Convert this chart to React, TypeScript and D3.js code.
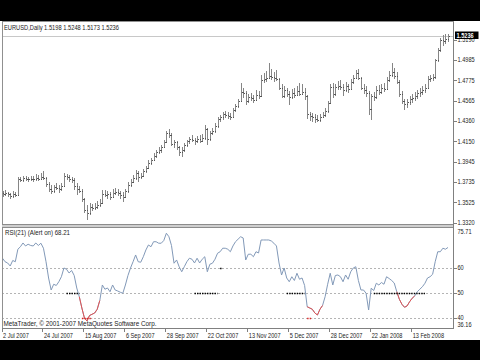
import React from 'react';
import * as d3 from 'd3';

// ---------- data ----------
const symbolTitle = 'EURUSD,Daily  1.5198 1.5248 1.5173 1.5236';
const rsiTitle = 'RSI(21) (Alert on) 68.21';
const copyright = 'MetaTrader, \u00A9 2001-2007 MetaQuotes Software Corp.';

const dateLabels = ['2 Jul 2007', '24 Jul 2007', '15 Aug 2007', '6 Sep 2007', '28 Sep 2007', '22 Oct 2007', '13 Nov 2007', '5 Dec 2007', '28 Dec 2007', '22 Jan 2008', '13 Feb 2008'];
const dateLabelBars = [0, 16, 32, 48, 64, 80, 96, 112, 128, 144, 160];

const priceTicks = [1.5190, 1.4985, 1.4775, 1.4565, 1.4360, 1.4150, 1.3945, 1.3735, 1.3525, 1.3320];
const priceMin = 1.3320;
const lastPrice = 1.5236;

const rsiMax = 75.71;
const rsiMin = 36.16;
const rsiLevels = [60, 50, 40];

const opens = [
  1.3620,1.3615,1.3620,1.3610,1.3595,1.3615,1.3605,1.3770,1.3760,1.3775,
  1.3770,1.3765,1.3770,1.3765,1.3780,1.3770,1.3790,1.3775,1.3710,1.3660,
  1.3640,1.3680,1.3675,1.3660,1.3690,1.3800,1.3790,1.3770,1.3760,1.3690,
  1.3660,1.3640,1.3560,1.3450,1.3420,1.3480,1.3470,1.3480,1.3500,1.3520,
  1.3610,1.3600,1.3610,1.3580,1.3620,1.3630,1.3620,1.3605,1.3580,1.3640,
  1.3700,1.3740,1.3780,1.3830,1.3790,1.3800,1.3850,1.3880,1.3930,1.3960,
  1.4000,1.4040,1.4060,1.4090,1.4140,1.4240,1.4220,1.4120,1.4140,1.4090,
  1.4040,1.4060,1.4110,1.4150,1.4180,1.4170,1.4150,1.4180,1.4160,1.4190,
  1.4280,1.4180,1.4240,1.4260,1.4310,1.4380,1.4400,1.4430,1.4420,1.4410,
  1.4400,1.4470,1.4510,1.4570,1.4660,1.4650,1.4560,1.4610,1.4600,1.4580,
  1.4630,1.4620,1.4780,1.4790,1.4800,1.4820,1.4810,1.4800,1.4790,1.4700,
  1.4620,1.4680,1.4640,1.4610,1.4650,1.4630,1.4670,1.4640,1.4660,1.4620,
  1.4430,1.4410,1.4400,1.4380,1.4370,1.4400,1.4420,1.4460,1.4540,1.4710,
  1.4640,1.4710,1.4720,1.4710,1.4680,1.4720,1.4690,1.4760,1.4800,1.4850,
  1.4800,1.4700,1.4680,1.4650,1.4480,1.4620,1.4610,1.4680,1.4660,1.4700,
  1.4690,1.4780,1.4830,1.4860,1.4820,1.4760,1.4640,1.4560,1.4530,1.4550,
  1.4590,1.4600,1.4620,1.4650,1.4660,1.4680,1.4700,1.4790,1.4800,1.4810,
  1.4980,1.5090,1.5190,1.5180,1.5198,
];
const highs = [
  1.3640,1.3650,1.3635,1.3625,1.3640,1.3630,1.3790,1.3790,1.3800,1.3795,
  1.3790,1.3800,1.3795,1.3815,1.3810,1.3830,1.3845,1.3790,1.3740,1.3700,
  1.3700,1.3720,1.3700,1.3720,1.3830,1.3820,1.3805,1.3790,1.3775,1.3720,
  1.3690,1.3660,1.3575,1.3500,1.3520,1.3510,1.3515,1.3540,1.3560,1.3650,
  1.3650,1.3640,1.3630,1.3660,1.3670,1.3660,1.3645,1.3630,1.3660,1.3730,
  1.3770,1.3810,1.3860,1.3850,1.3830,1.3870,1.3900,1.3960,1.3985,1.4030,
  1.4065,1.4090,1.4110,1.4165,1.4260,1.4280,1.4235,1.4170,1.4160,1.4100,
  1.4090,1.4130,1.4170,1.4200,1.4215,1.4190,1.4210,1.4220,1.4230,1.4320,
  1.4290,1.4260,1.4290,1.4340,1.4400,1.4420,1.4450,1.4460,1.4450,1.4440,
  1.4490,1.4530,1.4590,1.4750,1.4700,1.4670,1.4640,1.4650,1.4630,1.4680,
  1.4670,1.4830,1.4850,1.4870,1.4955,1.4890,1.4860,1.4880,1.4800,1.4740,
  1.4720,1.4700,1.4670,1.4690,1.4700,1.4720,1.4750,1.4740,1.4700,1.4630,
  1.4450,1.4440,1.4430,1.4420,1.4430,1.4450,1.4490,1.4560,1.4740,1.4750,
  1.4740,1.4770,1.4780,1.4740,1.4760,1.4740,1.4790,1.4830,1.4880,1.4890,
  1.4810,1.4740,1.4720,1.4670,1.4640,1.4660,1.4720,1.4730,1.4740,1.4750,
  1.4810,1.4870,1.4950,1.4900,1.4860,1.4780,1.4670,1.4590,1.4590,1.4620,
  1.4640,1.4660,1.4680,1.4700,1.4720,1.4740,1.4820,1.4830,1.4840,1.5000,
  1.5110,1.5215,1.5240,1.5250,1.5248,
];
const lows = [
  1.3580,1.3590,1.3585,1.3560,1.3575,1.3585,1.3600,1.3735,1.3740,1.3745,
  1.3740,1.3745,1.3730,1.3750,1.3745,1.3755,1.3760,1.3680,1.3630,1.3615,
  1.3625,1.3650,1.3620,1.3640,1.3680,1.3760,1.3730,1.3720,1.3650,1.3600,
  1.3620,1.3530,1.3420,1.3345,1.3400,1.3440,1.3445,1.3460,1.3480,1.3510,
  1.3580,1.3560,1.3550,1.3570,1.3600,1.3590,1.3560,1.3535,1.3570,1.3620,
  1.3680,1.3720,1.3760,1.3740,1.3770,1.3790,1.3830,1.3870,1.3910,1.3950,
  1.3980,1.4020,1.4030,1.4080,1.4130,1.4190,1.4100,1.4080,1.4060,1.4000,
  1.3990,1.4040,1.4090,1.4120,1.4140,1.4110,1.4130,1.4135,1.4140,1.4170,
  1.4110,1.4160,1.4220,1.4240,1.4290,1.4350,1.4370,1.4390,1.4380,1.4370,
  1.4390,1.4450,1.4490,1.4550,1.4600,1.4520,1.4540,1.4570,1.4540,1.4560,
  1.4590,1.4610,1.4750,1.4760,1.4790,1.4780,1.4760,1.4770,1.4680,1.4600,
  1.4600,1.4610,1.4520,1.4590,1.4600,1.4620,1.4620,1.4630,1.4580,1.4380,
  1.4360,1.4350,1.4340,1.4345,1.4350,1.4390,1.4400,1.4440,1.4530,1.4600,
  1.4620,1.4680,1.4680,1.4620,1.4660,1.4650,1.4680,1.4740,1.4790,1.4780,
  1.4680,1.4640,1.4610,1.4420,1.4370,1.4560,1.4590,1.4630,1.4640,1.4660,
  1.4680,1.4760,1.4810,1.4790,1.4740,1.4610,1.4530,1.4470,1.4490,1.4520,
  1.4540,1.4570,1.4590,1.4610,1.4630,1.4650,1.4690,1.4760,1.4770,1.4790,
  1.4960,1.5070,1.5130,1.5150,1.5173,
];
const closes = [
  1.3615,1.3620,1.3610,1.3595,1.3615,1.3605,1.3770,1.3760,1.3775,1.3770,
  1.3765,1.3770,1.3765,1.3780,1.3770,1.3790,1.3775,1.3710,1.3660,1.3640,
  1.3680,1.3675,1.3660,1.3690,1.3800,1.3790,1.3770,1.3760,1.3690,1.3660,
  1.3640,1.3560,1.3450,1.3420,1.3480,1.3470,1.3480,1.3500,1.3520,1.3610,
  1.3600,1.3610,1.3580,1.3620,1.3630,1.3620,1.3605,1.3580,1.3640,1.3700,
  1.3740,1.3780,1.3830,1.3790,1.3800,1.3850,1.3880,1.3930,1.3960,1.4000,
  1.4040,1.4060,1.4090,1.4140,1.4240,1.4220,1.4120,1.4140,1.4090,1.4040,
  1.4060,1.4110,1.4150,1.4180,1.4170,1.4150,1.4180,1.4160,1.4190,1.4280,
  1.4180,1.4240,1.4260,1.4310,1.4380,1.4400,1.4430,1.4420,1.4410,1.4400,
  1.4470,1.4510,1.4570,1.4660,1.4650,1.4560,1.4610,1.4600,1.4580,1.4630,
  1.4620,1.4780,1.4790,1.4800,1.4820,1.4810,1.4800,1.4790,1.4700,1.4620,
  1.4680,1.4640,1.4610,1.4650,1.4630,1.4670,1.4640,1.4660,1.4620,1.4430,
  1.4410,1.4400,1.4380,1.4370,1.4400,1.4420,1.4460,1.4540,1.4710,1.4640,
  1.4710,1.4720,1.4710,1.4680,1.4720,1.4690,1.4760,1.4800,1.4850,1.4800,
  1.4700,1.4680,1.4650,1.4480,1.4620,1.4610,1.4680,1.4660,1.4700,1.4690,
  1.4780,1.4830,1.4860,1.4820,1.4760,1.4640,1.4560,1.4530,1.4550,1.4590,
  1.4600,1.4620,1.4650,1.4660,1.4680,1.4700,1.4790,1.4800,1.4810,1.4980,
  1.5090,1.5190,1.5180,1.5200,1.5236,
];

const rsiValues = [
  63.9,62.5,62,60.8,63,62.5,67.5,68.5,70,68.8,
  69.5,69,68.8,70,69,69.9,67.9,62.5,56,51.2,
  53.5,53,54.5,56.5,60,59.5,58,59,57,52,
  48.5,44,40,38.8,41,41.5,42,43.5,47,53.2,
  51.5,52,50.5,53.2,51.2,50.8,50.3,49.9,53.2,57,
  60,62.5,65.2,62.5,62.3,64.5,67.2,69.2,68.5,70.5,
  70.5,69.9,69.9,71,73.9,72.5,69,61.9,63.2,60.5,
  58.5,60.5,62.5,63.9,63.5,62,63.9,62,63.5,64.5,
  58.5,61.5,61.9,63.5,65.9,66.5,67.9,67.9,67.5,66.5,
  68.8,70.5,71.5,72.5,72,63.2,65.5,65.5,64.5,66.5,
  66,71.2,71.2,71.2,71.2,70.8,69.9,68.8,62,57.2,
  60,56,54.5,56.5,55,57.9,55.5,56,53,44.5,
  44,43.5,42,41.2,43.5,45,48.5,53.5,57.9,53.2,
  57,57.2,56.5,54.5,57.2,55.5,58.5,60,60.5,55,
  51.2,51.2,49.9,43.2,51.9,51,53.9,53.2,54.2,53.5,
  56.5,55.8,55,54,50.5,47.5,45.5,44.3,44.8,46.5,
  47.9,48.8,50.5,51.5,52.5,53.9,56,56.5,57.5,62.5,
  66.5,66.5,67.9,67.5,68.21,
];

// bar ranges where the RSI line is drawn red
const redFrom = [30, 119, 154];
const redTo = [38, 125, 161];

// alert marker rows: start bar, end bar, RSI level, colour
const alertFrom = [25, 75, 111, 145, 85, 31, 119];
const alertTo = [30, 84, 118, 165, 86, 35, 121];
const alertLevel = [50, 50, 50, 50, 60, 40, 40];
const alertColor = ['#000', '#000', '#000', '#000', '#000', '#e02020', '#e02020'];

// ---------- component ----------
const FONT = 'Liberation Sans, Arial, sans-serif';

function T(props: { x: number; y: number; children: any; fill?: string; size?: number; anchor?: string; weight?: string }) {
  const { x, y, children, fill = '#222', size = 7, anchor = 'start', weight = 'normal' } = props;
  return (
    <text transform={`translate(${x},${y}) scale(0.8,1)`} fontSize={size} fontFamily={FONT} fill={fill} textAnchor={anchor as any} fontWeight={weight}>
      {children}
    </text>
  );
}

export default function App() {
  const W = 480, H = 360;
  const left = 2, right = 453.5, topY = 21.5;
  const rsiTop = 227.5, rsiBottom = 328.5;
  const n = closes.length;

  const x = d3.scaleLinear().domain([0, n - 1]).range([2.5, 448]);
  const yP = d3.scaleLinear().domain([priceMin, lastPrice]).range([222.5, 35.5]);
  const yR = d3.scaleLinear().domain([rsiMin, rsiMax]).range([327.6, 228.7]);
  const px = (i: number) => Math.round(x(i)) + 0.5;
  const py = (p: number) => Math.round(yP(p)) + 0.5;

  const rsiLine = d3.line<number>().x((_, i) => x(i)).y((d) => yR(d));
  const idx = d3.range(n);
  const redPaths = redFrom.map((a, k) => {
    const seg = idx.filter((i) => i >= a && i <= redTo[k]);
    return d3.line<number>().x((i) => x(i)).y((i) => yR(rsiValues[i]))(seg) || '';
  });

  const barColor = '#868686';

  return (
    <svg width={W} height={H} style={{ position: 'absolute', left: 0, top: 0, background: '#fff' }}>
      <rect x={0} y={0} width={W} height={H} fill="#fff" />

      {/* price panel */}
      <g shapeRendering="crispEdges">
        <line x1={left} x2={right} y1={py(lastPrice)} y2={py(lastPrice)} stroke="#c8c8c8" />
        {idx.map((i) => (
          <g key={i} stroke={barColor}>
            <line x1={px(i)} x2={px(i)} y1={yP(highs[i])} y2={yP(lows[i])} />
            <line x1={px(i) - 1} x2={px(i)} y1={py(opens[i])} y2={py(opens[i])} stroke="#555" />
            <line x1={px(i)} x2={px(i) + 1} y1={py(closes[i])} y2={py(closes[i])} stroke="#555" />
          </g>
        ))}
      </g>

      {/* RSI panel */}
      <g shapeRendering="crispEdges">
        {rsiLevels.map((lv) => (
          <line key={lv} x1={left} x2={right} y1={Math.round(yR(lv)) + 0.5} y2={Math.round(yR(lv)) + 0.5} stroke="#b4b4b4" strokeDasharray="2,2" />
        ))}
      </g>
      <path d={rsiLine(rsiValues) || ''} fill="none" stroke="#8299b8" strokeWidth={1} />
      {redPaths.map((d, k) => (
        <path key={k} d={d} fill="none" stroke="#e25555" strokeWidth={1} />
      ))}
      {alertFrom.map((a, k) => (
        <line key={k} x1={x(a)} x2={x(alertTo[k])} y1={Math.round(yR(alertLevel[k])) + 0.5} y2={Math.round(yR(alertLevel[k])) + 0.5}
          stroke={alertColor[k]} strokeWidth={1.5} strokeDasharray="1.4,1.1" />
      ))}

      {/* frames */}
      <g shapeRendering="crispEdges" fill="none">
        <line x1={left + 0.5} x2={left + 0.5} y1={topY} y2={rsiBottom} stroke="#909090" />
        <line x1={left} x2={right} y1={topY} y2={topY} stroke="#909090" />
        <rect x={left} y={224} width={right - left} height={3.5} fill="#cfcfcf" stroke="none" />
        <line x1={left} x2={right} y1={224.5} y2={224.5} stroke="#8c8c8c" />
        <line x1={left} x2={right} y1={rsiTop} y2={rsiTop} stroke="#8c8c8c" />
        <line x1={left} x2={right} y1={rsiBottom} y2={rsiBottom} stroke="#808080" />
        <line x1={right} x2={right} y1={topY} y2={rsiBottom} stroke="#808080" />
      </g>

      {/* price axis */}
      {priceTicks.map((p) => (
        <g key={p}>
          <line x1={right} x2={right + 3} y1={py(p)} y2={py(p)} stroke="#808080" shapeRendering="crispEdges" />
          <T x={457.5} y={yP(p) + 2.5}>{p.toFixed(4)}</T>
        </g>
      ))}
      <rect x={455} y={yP(lastPrice) - 4} width={23.5} height={7.5} fill="#000" />
      <T x={456.5} y={yP(lastPrice) + 2.4} fill="#fff" weight="bold">{lastPrice.toFixed(4)}</T>

      {/* RSI axis */}
      <T x={457.5} y={yR(rsiMax) + 5.5}>{rsiMax.toFixed(2)}</T>
      {rsiLevels.map((lv) => (
        <g key={lv}>
          <line x1={right} x2={right + 3} y1={Math.round(yR(lv)) + 0.5} y2={Math.round(yR(lv)) + 0.5} stroke="#808080" shapeRendering="crispEdges" />
          <T x={457.5} y={yR(lv) + 2}>{String(lv)}</T>
        </g>
      ))}
      <T x={457.5} y={yR(rsiMin) - 0.3}>{rsiMin.toFixed(2)}</T>

      {/* date axis */}
      {dateLabelBars.map((b, k) => (
        <g key={b}>
          <line x1={px(b) - 1} x2={px(b) - 1} y1={rsiBottom} y2={rsiBottom + 3} stroke="#808080" shapeRendering="crispEdges" />
          <T x={x(b) + 0.5} y={337.5}>{dateLabels[k]}</T>
        </g>
      ))}

      {/* titles */}
      <text x={4} y={29.5} fontSize={7} fontFamily={FONT} fill="#222" textLength={115} lengthAdjust="spacingAndGlyphs">{symbolTitle}</text>
      <text x={5} y={234.5} fontSize={7} fontFamily={FONT} fill="#222" textLength={65} lengthAdjust="spacingAndGlyphs">{rsiTitle}</text>
      <text x={3.5} y={325.5} fontSize={7} fontFamily={FONT} fill="#222" textLength={153} lengthAdjust="spacingAndGlyphs">{copyright}</text>

      {/* letterbox */}
      <rect x={0} y={0} width={W} height={21} fill="#000" />
      <rect x={0} y={340} width={W} height={20} fill="#000" />
    </svg>
  );
}
